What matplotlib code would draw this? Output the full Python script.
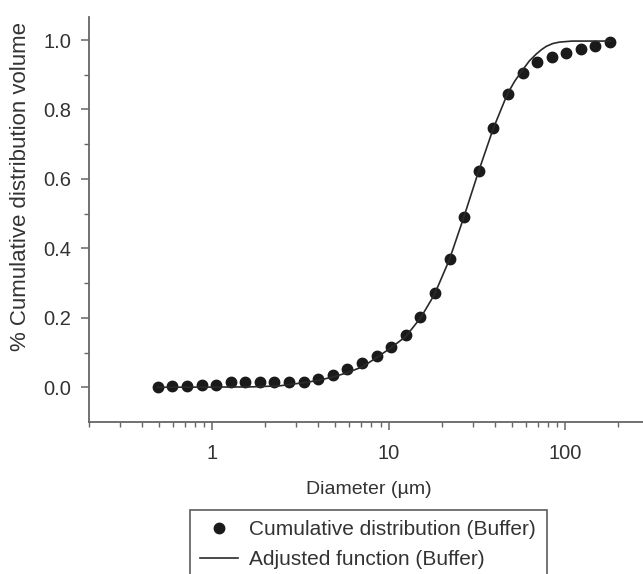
import matplotlib
matplotlib.use("Agg")
import matplotlib.pyplot as plt

plt.rcParams['font.family'] = ['Liberation Sans', 'DejaVu Sans']

# measured points (diameter in um, cumulative fraction)
diam = [0.49, 0.59, 0.72, 0.87, 1.05, 1.27, 1.54, 1.86, 2.25, 2.72,
        3.3, 3.99, 4.82, 5.84, 7.06, 8.55, 10.3, 12.5, 15.1, 18.3,
        22.2, 26.8, 32.5, 39.3, 47.5, 57.5, 69.6, 84.2, 101.9, 123,
        149, 180]
cumul = [0.0, 0.004, 0.004, 0.007, 0.007, 0.014, 0.014, 0.014, 0.014, 0.014,
         0.016, 0.025, 0.036, 0.052, 0.070, 0.091, 0.116, 0.151, 0.203, 0.272,
         0.370, 0.489, 0.622, 0.748, 0.844, 0.904, 0.936, 0.952, 0.963, 0.973,
         0.984, 0.995]

# adjusted function
fit_d = [0.49, 1.62, 2.40, 2.74, 3.29, 4.00, 4.86, 5.84, 7.10, 8.53,
         10.4, 12.5, 15.2, 18.2, 22.1, 26.6, 32.3, 39.3, 47.2, 52.0, 57.4,
         62.9, 68.9, 73.5, 78.5, 85.5, 93.1, 110, 181]
fit_v = [0.0, 0.001, 0.004, 0.008, 0.013, 0.020, 0.030, 0.042, 0.059, 0.085,
         0.115, 0.146, 0.200, 0.267, 0.367, 0.487, 0.620, 0.746, 0.845, 0.882, 0.913,
         0.940, 0.960, 0.972, 0.982, 0.990, 0.994, 0.997, 0.997]

txt = '#333333'
fig = plt.figure(figsize=(6.43, 5.74), dpi=100)
ax = fig.add_axes([0.1384, 0.2648, 0.871, 0.706])

ax.plot(diam, cumul, 'o', color='#1a1a1a', markersize=7.5,
        label='Cumulative distribution (Buffer)')
ax.plot(fit_d, fit_v, '-', color='#2a2a2a', linewidth=1.2,
        label='Adjusted function (Buffer)')

ax.set_xscale('log')
ax.set_xlim(0.2, 300)
ax.set_ylim(-0.1, 1.067)
ax.set_xticks([1, 10, 100])
ax.set_xticklabels(['1', '10', '100'])
ax.set_yticks([0.0, 0.2, 0.4, 0.6, 0.8, 1.0])
ax.set_yticks([0.1, 0.3, 0.5, 0.7, 0.9], minor=True)
ax.set_yticklabels(['0.0', '0.2', '0.4', '0.6', '0.8', '1.0'])

for s in ['top', 'right']:
    ax.spines[s].set_visible(False)
for s in ['left', 'bottom']:
    ax.spines[s].set_color('#666666')
    ax.spines[s].set_linewidth(1.3)

ax.tick_params(which='major', length=6, width=1.1, color='#666666',
               labelsize=14.5, labelcolor=txt, pad=7)
ax.tick_params(axis='x', which='major', pad=10)
ax.tick_params(which='minor', length=3.5, width=1.0, color='#666666')

ax.set_xlabel('Diameter (\u00b5m)', fontsize=14, color=txt, labelpad=13)
ax.set_ylabel('% Cumulative distribution volume', fontsize=16, color=txt)
ax.yaxis.set_label_coords(-0.104, 0.58)

leg = fig.legend(loc='upper left', bbox_to_anchor=(190 / 643, 1 - 510 / 574),
                 fontsize=15, frameon=True, fancybox=False, borderpad=0.5,
                 labelspacing=0.5, handlelength=1.8, handletextpad=0.55,
                 borderaxespad=0)
leg.get_frame().set_edgecolor('#333333')
leg.get_frame().set_linewidth(1.2)
for t in leg.get_texts():
    t.set_color(txt)

fig.savefig('out.png', dpi=100)
